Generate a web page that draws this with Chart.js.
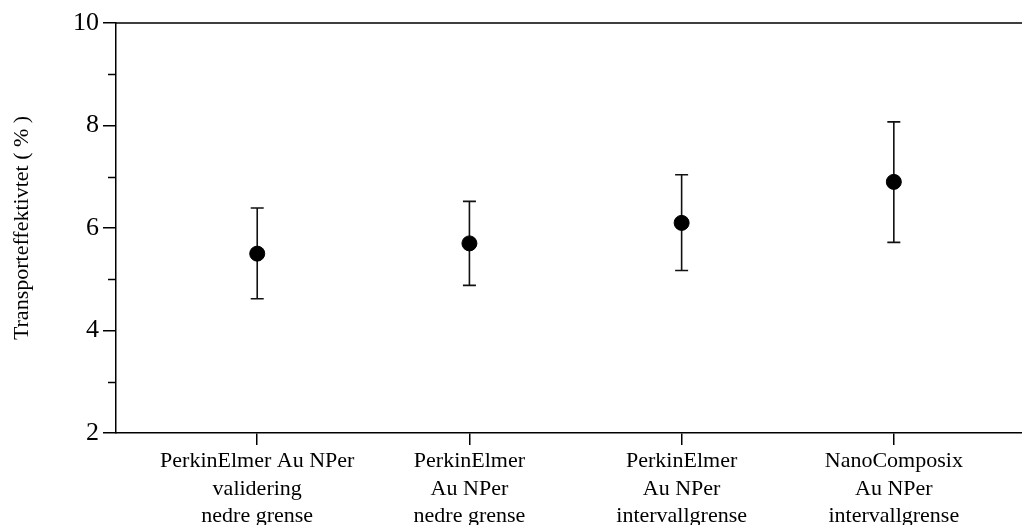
<!DOCTYPE html>
<html>
<head>
<meta charset="utf-8">
<script src="https://cdn.jsdelivr.net/npm/chart.js@4"></script>
<style>
  html, body { margin: 0; padding: 0; background: #fff; overflow: hidden; }
  #wrap { width: 1022px; height: 525px; }
  canvas { display: block; }
</style>
</head>
<body>
<div id="wrap"><canvas id="chart" width="1022" height="525"></canvas></div>
<script>
const categories = [
  ["PerkinElmer Au NPer", "validering", "nedre grense"],
  ["PerkinElmer", "Au NPer", "nedre grense"],
  ["PerkinElmer", "Au NPer", "intervallgrense"],
  ["NanoComposix", "Au NPer", "intervallgrense"],
];
const means = [5.5, 5.7, 6.1, 6.9];
const lower = [4.62, 4.88, 5.17, 5.72];
const upper = [6.39, 6.52, 7.04, 8.07];
const yTicks = [2, 4, 6, 8, 10];
const yMinorTicks = [3, 5, 7, 9];

const serif = "'Liberation Serif', 'DejaVu Serif', serif";

const points = means.map((v, i) => ({ x: i + 1, y: v }));

// error bars drawn under the dots
const errorBars = {
  id: "errorBars",
  beforeDatasetsDraw(chart) {
    const { ctx, scales } = chart;
    ctx.save();
    ctx.strokeStyle = "#111";
    ctx.lineWidth = 1.6;
    means.forEach((v, i) => {
      const x = scales.x.getPixelForValue(i + 1);
      const yl = scales.y.getPixelForValue(lower[i]);
      const yh = scales.y.getPixelForValue(upper[i]);
      ctx.beginPath();
      ctx.moveTo(x, yl); ctx.lineTo(x, yh);
      ctx.moveTo(x - 6.5, yl); ctx.lineTo(x + 6.5, yl);
      ctx.moveTo(x - 6.5, yh); ctx.lineTo(x + 6.5, yh);
      ctx.stroke();
    });
    ctx.restore();
  },
};

// top border line + short minor ticks on the y axis
const frame = {
  id: "frame",
  afterDraw(chart) {
    const { ctx, chartArea, scales } = chart;
    ctx.save();
    ctx.strokeStyle = "#000";
    ctx.lineWidth = 1.5;
    ctx.beginPath();
    ctx.moveTo(chartArea.left, chartArea.top);
    ctx.lineTo(chartArea.right, chartArea.top);
    yMinorTicks.forEach(v => {
      const y = Math.round(scales.y.getPixelForValue(v)) + 0.5;
      ctx.moveTo(chartArea.left - 8, y);
      ctx.lineTo(chartArea.left, y);
    });
    ctx.stroke();
    ctx.restore();
  },
};

new Chart(document.getElementById("chart"), {
  type: "scatter",
  data: {
    datasets: [
      {
        data: points,
        backgroundColor: "#000",
        borderColor: "#000",
        pointRadius: 7.5,
        pointHoverRadius: 7.5,
      },
    ],
  },
  options: {
    responsive: false,
    animation: false,
    layout: { autoPadding: false, padding: { top: 23, right: 0, left: 0, bottom: 0 } },
    plugins: { legend: { display: false }, tooltip: { enabled: false } },
    scales: {
      x: {
        type: "linear",
        min: 0.3345,
        max: 4.604,
        afterBuildTicks: (scale) => {
          scale.ticks = categories.map((c, i) => ({ value: i + 1 }));
        },
        afterFit: (scale) => {
          scale.height = 92;
          scale.paddingLeft = 0;
          scale.paddingRight = 0;
        },
        grid: { drawOnChartArea: false, color: "#000", tickLength: 12, lineWidth: 1.5 },
        border: { display: true, color: "#000", width: 1.5 },
        ticks: {
          color: "#000",
          padding: 3,
          maxRotation: 0,
          autoSkip: false,
          font: { family: serif, size: 22, lineHeight: 1.24 },
          callback: (v) => categories[Math.round(v) - 1],
        },
      },
      y: {
        min: 2,
        max: 10,
        afterBuildTicks: (scale) => {
          scale.ticks = yTicks.map(v => ({ value: v }));
        },
        afterFit: (scale) => {
          scale.width = 116;
          scale.paddingTop = 0;
          scale.paddingBottom = 0;
        },
        grid: { drawOnChartArea: false, color: "#000", tickLength: 13, lineWidth: 1.5 },
        border: { display: true, color: "#000", width: 1.5 },
        ticks: {
          color: "#000",
          padding: 4,
          font: { family: serif, size: 26 },
        },
        title: {
          display: true,
          text: "Transporteffektivtet ( % )",
          color: "#000",
          font: { family: serif, size: 22 },
          padding: { top: 9, bottom: 0 },
        },
      },
    },
  },
  plugins: [errorBars, frame],
});
</script>
</body>
</html>
